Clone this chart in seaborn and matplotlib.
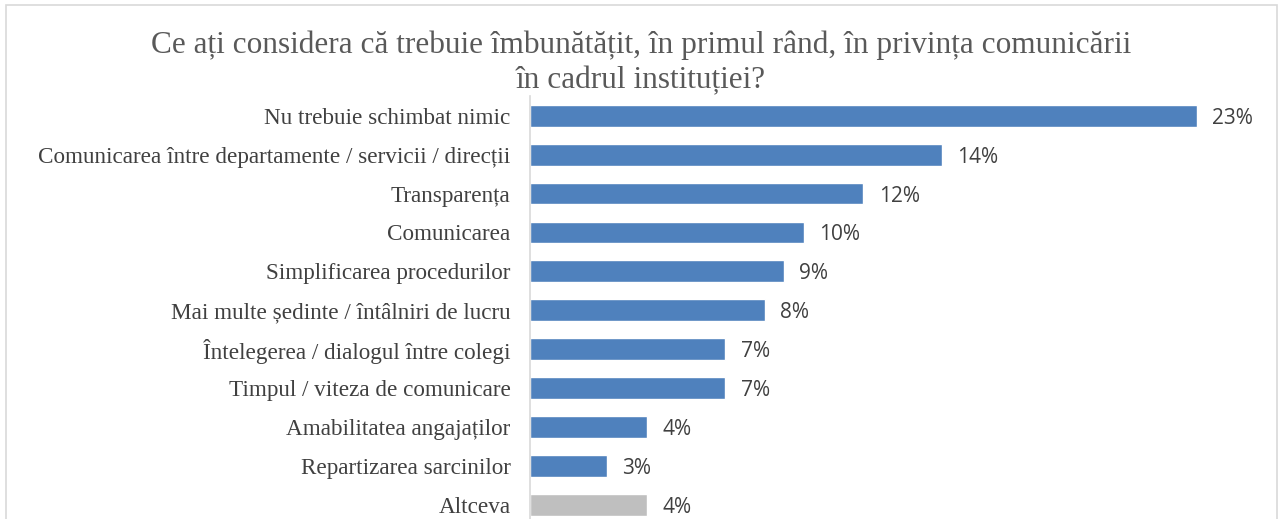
"""
Bar chart: ce ar trebui imbunatatit in comunicarea din institutie.
"""
import pandas as pd
import seaborn as sns
import matplotlib.pyplot as plt
from matplotlib.patches import Rectangle

# raspunsuri (procente)
categorii = ['Nu trebuie schimbat nimic',
             'Comunicarea între departamente / servicii / direcții',
             'Transparența',
             'Comunicarea',
             'Simplificarea procedurilor',
             'Mai multe ședinte / întâlniri de lucru',
             'Întelegerea / dialogul între colegi',
             'Timpul / viteza de comunicare',
             'Amabilitatea angajaților',
             'Repartizarea sarcinilor',
             'Altceva']
procente = [23.4, 14.45, 11.7, 9.6, 8.9, 8.25, 6.85, 6.85, 4.1, 2.7, 4.1]

titlu = 'Ce ați considera că trebuie îmbunătățit, în primul rând, în privința comunicării\nîn cadrul instituției?'

culori = ['#4f81bd'] * 10 + ['#bfbfbf']

df = pd.DataFrame({'Categorie': categorii, 'Procent': procente})

sns.set_style("white")

fig = plt.figure(figsize=(12.82, 5.19), dpi=100)
W, H = 1282, 519
# axes: left at x=530 px, 28.5 px per percent, rows of 38.9 px starting at y=96
ax = fig.add_axes([530 / W, (H - 96.3 - 11 * 38.9) / H, 25 * 28.5 / W, 11 * 38.9 / H])

sns.barplot(data=df, x='Procent', y='Categorie', hue='Categorie', palette=culori,
            legend=False, width=0.56, saturation=1, ax=ax)

ax.set_xlim(0, 25)
ax.set_ylim(10.5, -0.5)
ax.set(xlabel=None, ylabel=None)
ax.xaxis.set_visible(False)
for s in ['top', 'right', 'bottom']:
    ax.spines[s].set_visible(False)
ax.spines['left'].set_color('#d9d9d9')
ax.spines['left'].set_linewidth(1.2)

ax.tick_params(axis='y', length=0, pad=14)
for lbl in ax.get_yticklabels():
    lbl.set_fontfamily('Liberation Serif')
    lbl.set_fontsize(16.7)
    lbl.set_color('#404040')

for cont in ax.containers:
    txts = ax.bar_label(cont, labels=[f'{v:.0f}%' for v in cont.datavalues], padding=11,
                        fontsize=15, color='#404040', family='Open Sans')
    for t in txts:
        t.set_va('center_baseline')

fig.text(0.5, 1 - 63 / H, titlu, ha='center', va='center', fontsize=22.5,
         family='Liberation Serif', color='#595959', linespacing=1.25)

# chenarul graficului
fig.patches.append(Rectangle((6 / W, -0.05), (1277 - 6) / W, 1.05 - 5 / H,
                             transform=fig.transFigure, fill=False,
                             edgecolor='#d9d9d9', linewidth=1.2))

plt.savefig('out.png', dpi=100)
